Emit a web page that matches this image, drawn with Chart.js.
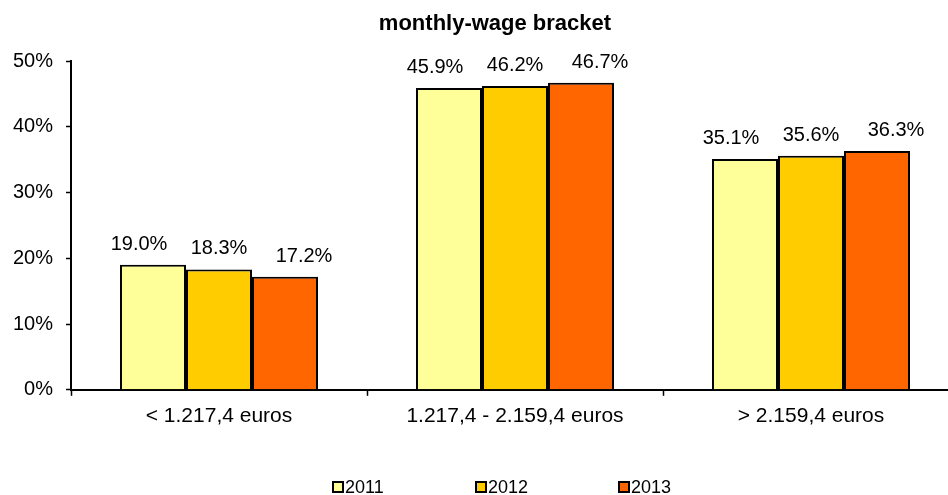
<!DOCTYPE html>
<html>
<head>
<meta charset="utf-8">
<script src="https://cdn.jsdelivr.net/npm/chart.js@4/dist/chart.umd.min.js"></script>
<style>
  html, body { margin: 0; padding: 0; overflow: hidden; background: #fff; }
  #wrap { width: 960px; height: 495px; }
</style>
</head>
<body>
<div id="wrap"><canvas id="myChart" width="960" height="495"></canvas></div>
<script>
var chartTitle = 'monthly-wage bracket';
var categories = ['< 1.217,4 euros', '1.217,4 - 2.159,4 euros', '> 2.159,4 euros'];
var years = ['2011', '2012', '2013'];
var values2011 = [19.0, 45.9, 35.1];
var values2012 = [18.3, 46.2, 35.6];
var values2013 = [17.2, 46.7, 36.3];
var yMax = 50, yStep = 10;
var colors = ['#FFFF99', '#FFCC00', '#FF6600'];

var FONT = "'Liberation Sans', Arial, sans-serif";

// title drawn by hand: Excel centres it a little right of the canvas middle
var topTitle = {
    id: 'topTitle',
    afterDraw: function(chart) {
        var ctx = chart.ctx;
        ctx.save();
        ctx.font = 'bold 22px ' + FONT;
        ctx.fillStyle = '#000';
        ctx.textAlign = 'center';
        ctx.textBaseline = 'alphabetic';
        ctx.fillText(chartTitle, 495, 30);
        ctx.restore();
    }
};

// value labels above the bars (Excel shifts the outer ones a bit)
var labelOffsets = [-14, 0, 19];
var valueLabels = {
    id: 'valueLabels',
    afterDatasetsDraw: function(chart) {
        var ctx = chart.ctx;
        ctx.save();
        ctx.font = '20px ' + FONT;
        ctx.fillStyle = '#000';
        ctx.textAlign = 'center';
        ctx.textBaseline = 'alphabetic';
        chart.data.datasets.forEach(function(ds, i) {
            chart.getDatasetMeta(i).data.forEach(function(bar, j) {
                ctx.fillText(ds.data[j].toFixed(1) + '%', bar.x + labelOffsets[i], bar.y - 15);
            });
        });
        ctx.restore();
    }
};

// legend drawn by hand so the wide gaps match
var bottomLegend = {
    id: 'bottomLegend',
    afterDraw: function(chart) {
        var ctx = chart.ctx;
        var step = 143, box = 10;
        var n = chart.data.datasets.length;
        var startX = 502 - (step * (n - 1) + 52) / 2;
        var y = 487;
        ctx.save();
        ctx.font = '18px ' + FONT;
        ctx.textBaseline = 'middle';
        chart.data.datasets.forEach(function(ds, i) {
            var x = startX + i * step;
            ctx.fillStyle = ds.backgroundColor;
            ctx.fillRect(x, y - box / 2, box, box);
            ctx.lineWidth = 2;
            ctx.strokeStyle = '#000';
            ctx.strokeRect(x, y - box / 2, box, box);
            ctx.fillStyle = '#000';
            ctx.fillText(ds.label, x + box + 2, y + 1);
        });
        ctx.restore();
    }
};

var ctx = document.getElementById('myChart').getContext('2d');
var chart = new Chart(ctx, {
    type: 'bar',
    data: {
        labels: categories,
        datasets: [
            { label: years[0], data: values2011, backgroundColor: colors[0] },
            { label: years[1], data: values2012, backgroundColor: colors[1] },
            { label: years[2], data: values2013, backgroundColor: colors[2] }
        ]
    },
    options: {
        responsive: false,
        animation: false,
        layout: { padding: { left: 0, right: 1, top: 61, bottom: 58 } },
        datasets: {
            bar: {
                borderColor: '#000',
                borderWidth: 2,
                categoryPercentage: 0.669,
                barPercentage: 1
            }
        },
        plugins: {
            legend: { display: false },
            tooltip: { enabled: false },
            title: { display: false }
        },
        scales: {
            x: {
                grid: {
                    drawOnChartArea: false,
                    tickLength: 6,
                    tickColor: '#000',
                    tickWidth: 1.5
                },
                border: { color: '#000', width: 2 },
                ticks: {
                    color: '#000',
                    padding: 8,
                    maxRotation: 0,
                    font: { family: FONT, size: 21 }
                }
            },
            y: {
                min: 0,
                max: yMax,
                afterFit: function(scale) { scale.width = 71; },
                grid: {
                    drawOnChartArea: false,
                    tickLength: 5,
                    tickColor: '#000',
                    tickWidth: 1.5
                },
                border: { color: '#000', width: 2 },
                ticks: {
                    stepSize: yStep,
                    color: '#000',
                    padding: 13,
                    font: { family: FONT, size: 20 },
                    callback: function(v) { return v + '%'; }
                }
            }
        }
    },
    plugins: [topTitle, valueLabels, bottomLegend]
});
</script>
</body>
</html>
